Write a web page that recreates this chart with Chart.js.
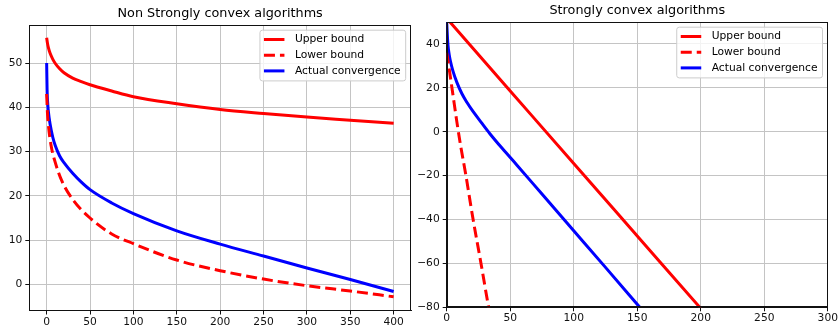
<!DOCTYPE html>
<html>
<head>
<meta charset="utf-8">
<script src="https://cdn.jsdelivr.net/npm/chart.js@4.4.0/dist/chart.umd.min.js"></script>
<style>
  html, body { margin: 0; padding: 0; background: #fff; }
  #wrap { position: relative; width: 839px; height: 328px; overflow: hidden; }
  canvas { position: absolute; top: 0; }
  #left { left: 0; }
  #right { left: 415px; }
</style>
</head>
<body>
<div id="wrap">
  <canvas id="left" width="415" height="328"></canvas>
  <canvas id="right" width="424" height="328"></canvas>
</div>
<script>
"use strict";

// series names
const seriesNames = ["Upper bound", "Lower bound", "Actual convergence"];

// left panel: non strongly convex
const leftTitle = "Non Strongly convex algorithms";
const leftXTicks = [0, 50, 100, 150, 200, 250, 300, 350, 400];
const leftYTicks = [0, 10, 20, 30, 40, 50];

const upperLX = [0, 1, 2, 4, 7, 10, 15, 20, 30, 40, 50, 75, 100, 150, 200, 250, 300, 350, 400];
const upperLY = [55.7, 54.4, 53.5, 52.2, 50.9, 49.9, 48.7, 47.8, 46.6, 45.8, 45.1, 43.7, 42.4, 40.8, 39.5, 38.6, 37.8, 37.1, 36.4];

const lowerLX = [0, 1, 2, 5, 10, 17, 30, 50, 75, 100, 150, 200, 250, 300, 350, 400];
const lowerLY = [43, 38.5, 36, 31.5, 27.5, 23.6, 19.2, 15, 11.4, 9.2, 5.5, 3.1, 1.2, -0.3, -1.5, -2.8];

const actualLX = [0, 0.5, 1, 2, 4, 7, 10, 15, 20, 30, 40, 50, 75, 100, 150, 200, 250, 300, 350, 400];
const actualLY = [50, 44, 41.5, 39, 36.2, 33.3, 31.3, 29, 27.5, 25.1, 23.1, 21.4, 18.4, 16, 12.1, 9.1, 6.4, 3.7, 1.1, -1.6];

// right panel: strongly convex
const rightTitle = "Strongly convex algorithms";
const rightXTicks = [0, 50, 100, 150, 200, 250, 300];
const rightYTicks = [-80, -60, -40, -20, 0, 20, 40];

const upperRX = [0, 50, 100, 150, 200];
const upperRY = [51.7, 18.6, -14.5, -47.5, -80.5];

const lowerRX = [0, 1, 2, 3.5, 5, 8, 11, 15, 20.5, 27, 33, 33.5];
const lowerRY = [36, 32.5, 28.5, 22.5, 16.5, 4.5, -6.5, -19.5, -39, -60, -80, -81.5];

const actualRX = [0, 0.5, 1, 2, 3, 5, 8, 12, 16, 21, 27, 34, 44, 55, 75, 100, 125, 152];
const actualRY = [50, 44, 39.5, 35, 32, 27.5, 22.5, 17.3, 13.3, 9, 4.4, -0.9, -7.8, -15, -28.4, -45.1, -61.8, -80];

const FONT = '"DejaVu Sans", sans-serif';
Chart.defaults.font.family = FONT;
Chart.defaults.color = "#000";

function pts(xs, ys) {
  return xs.map((x, i) => ({ x, y: ys[i] }));
}

function series(label, xs, ys, color, dashed) {
  return {
    label,
    data: pts(xs, ys),
    borderColor: color,
    backgroundColor: color,
    borderWidth: 3,
    borderDash: dashed ? [11, 5] : [],
    pointRadius: 0,
    cubicInterpolationMode: "monotone",
    fill: false,
    clip: 0,
  };
}

// title over the plot centre, box round the axes, legend in the upper right
const mplDecor = {
  id: "mplDecor",
  afterDatasetsDraw(chart, args, opts) {
    const { ctx, chartArea: a } = chart;
    ctx.save();
    ctx.strokeStyle = "#111";
    ctx.lineWidth = 1;
    ctx.strokeRect(Math.round(a.left) + 0.5, Math.round(a.top) + 0.5,
      Math.round(a.right - a.left) - 1, Math.round(a.bottom - a.top) - 1);

    ctx.font = `12.8px ${FONT}`;
    ctx.fillStyle = "#000";
    ctx.textAlign = "center";
    ctx.textBaseline = "middle";
    ctx.fillText(opts.title, (a.left + a.right) / 2, a.top - opts.titleGap);

    const fs = 10.7;
    ctx.font = `${fs}px ${FONT}`;
    const sets = chart.data.datasets;
    const textW = Math.max(...sets.map((d) => ctx.measureText(d.label).width));
    const w = 4 + 20.5 + 10.5 + textW + 5;
    const h = 50.7;
    const x0 = a.right - 5.3 - w;
    const y0 = a.top + 5.2;
    const r = 2.5;
    ctx.beginPath();
    ctx.moveTo(x0 + r, y0);
    ctx.lineTo(x0 + w - r, y0);
    ctx.quadraticCurveTo(x0 + w, y0, x0 + w, y0 + r);
    ctx.lineTo(x0 + w, y0 + h - r);
    ctx.quadraticCurveTo(x0 + w, y0 + h, x0 + w - r, y0 + h);
    ctx.lineTo(x0 + r, y0 + h);
    ctx.quadraticCurveTo(x0, y0 + h, x0, y0 + h - r);
    ctx.lineTo(x0, y0 + r);
    ctx.quadraticCurveTo(x0, y0, x0 + r, y0);
    ctx.closePath();
    ctx.fillStyle = "rgba(255,255,255,0.8)";
    ctx.fill();
    ctx.strokeStyle = "#cccccc";
    ctx.stroke();

    sets.forEach((d, i) => {
      const cy = y0 + 9.3 + i * 15.7;
      ctx.strokeStyle = d.borderColor;
      ctx.lineWidth = d.borderWidth;
      ctx.setLineDash(d.borderDash || []);
      ctx.beginPath();
      ctx.moveTo(x0 + 4, cy);
      ctx.lineTo(x0 + 24.5, cy);
      ctx.stroke();
      ctx.setLineDash([]);
      ctx.fillStyle = "#000";
      ctx.textBaseline = "middle";
      ctx.textAlign = "left";
      ctx.fillText(d.label, x0 + 35, cy);
    });
    ctx.restore();
  },
};

function axis(min, max, ticks, fitKey, fitVal, pad) {
  return {
    type: "linear",
    min,
    max,
    afterBuildTicks: (scale) => {
      scale.ticks = ticks.map((v) => ({ value: v }));
    },
    afterFit: (scale) => {
      scale[fitKey] = fitVal;
    },
    grid: { color: "#c4c4c4", lineWidth: 1, tickColor: "#111", tickLength: 4 },
    border: { color: "#111", width: 1 },
    ticks: {
      font: { size: 10.7 },
      color: "#111",
      padding: pad,
      maxRotation: 0,
      autoSkip: false,
      callback: (v) => String(v).replace("-", "\u2212"),
    },
  };
}

function makeChart(id, opt) {
  return new Chart(document.getElementById(id), {
    type: "line",
    data: { datasets: opt.datasets },
    options: {
      responsive: false,
      animation: false,
      devicePixelRatio: 1,
      layout: { padding: { left: 0, right: opt.padRight, top: opt.padTop, bottom: 0 } },
      plugins: {
        legend: { display: false },
        tooltip: { enabled: false },
        title: { display: false },
        mplDecor: { title: opt.title, titleGap: opt.titleGap },
      },
      scales: {
        x: axis(opt.xMin, opt.xMax, opt.xTicks, "height", opt.xHeight, 1),
        y: axis(opt.yMin, opt.yMax, opt.yTicks, "width", opt.yWidth, 3),
      },
    },
    plugins: [mplDecor],
  });
}

makeChart("left", {
  title: leftTitle,
  padTop: 25, titleGap: 11.5,
  padRight: 4,
  xMin: -20, xMax: 420, xTicks: leftXTicks, xHeight: 17.5,
  yMin: -5.9, yMax: 58.6, yTicks: leftYTicks, yWidth: 29.3,
  datasets: [
    series(seriesNames[0], upperLX, upperLY, "#ff0000", false),
    series(seriesNames[1], lowerLX, lowerLY, "#ff0000", true),
    series(seriesNames[2], actualLX, actualLY, "#0000ff", false),
  ],
});

makeChart("right", {
  title: rightTitle,
  padTop: 22, titleGap: 11,
  padRight: 10.7,
  xMin: 0, xMax: 300, xTicks: rightXTicks, xHeight: 20.7,
  yMin: -80, yMax: 50, yTicks: rightYTicks, yWidth: 31.7,
  datasets: [
    series(seriesNames[0], upperRX, upperRY, "#ff0000", false),
    series(seriesNames[1], lowerRX, lowerRY, "#ff0000", true),
    series(seriesNames[2], actualRX, actualRY, "#0000ff", false),
  ],
});
</script>
</body>
</html>
